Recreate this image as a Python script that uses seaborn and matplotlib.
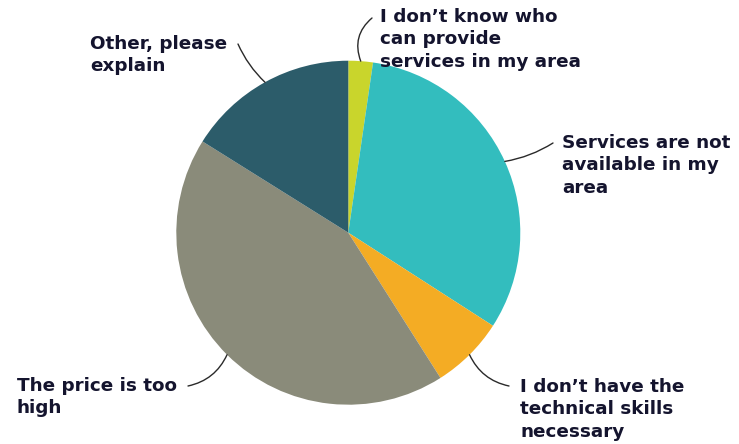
import numpy as np
import matplotlib
matplotlib.use("Agg")
import matplotlib.pyplot as plt
import seaborn as sns

# Reasons given, in clockwise order from 12 o'clock
categories = [
    "I don\u2019t know who\ncan provide\nservices in my area",
    "Services are not\navailable in my\narea",
    "I don\u2019t have the\ntechnical skills\nnecessary",
    "The price is too\nhigh",
    "Other, please\nexplain",
]
shares = [2.3, 31.8, 6.9, 42.9, 16.1]
colors = ["#c9d52c", "#33bdbe", "#f4ac24", "#8a8b7a", "#2c5c6a"]

sns.set_theme(style="white")
plt.rcParams["font.family"] = ["DejaVu Sans"]

W, H, DPI = 739, 444, 100
fig = plt.figure(figsize=(W / DPI, H / DPI), dpi=DPI)
ax = fig.add_axes([0, 0, 1, 1])

# pie centre / radius in pixels, used to set the data window
cx, cy, rp = 348.3, 232.7, 172.0


def px(x, y):
    return (x - cx) / rp, (cy - y) / rp


wedges, _ = ax.pie(shares, colors=colors, startangle=90, counterclock=False,
                   radius=1.0, wedgeprops=dict(linewidth=0))
ax.set_aspect("auto")
ax.set_xlim(-cx / rp, (W - cx) / rp)
ax.set_ylim(-(H - cy) / rp, cy / rp)
ax.axis("off")

# text block anchor (pixel), horizontal alignment, connector end (pixel), curvature
layout = [
    ((380, 8), "left", (372, 18), -0.35),
    ((562, 134), "left", (553, 143), 0.1),
    ((520, 378), "left", (509, 386), 0.25),
    ((177, 377), "right", (188, 386), -0.25),
    ((227, 35), "right", (238, 44), -0.1),
]

text_color = "#14142e"
for w, label, (tpos, ha, end, rad) in zip(wedges, categories, layout):
    mid = np.deg2rad((w.theta1 + w.theta2) / 2)
    start = (np.cos(mid), np.sin(mid))
    ax.annotate("", xy=px(*end), xytext=start,
                arrowprops=dict(arrowstyle="-", color="#2a2a2a", lw=1.0,
                                connectionstyle=f"arc3,rad={rad}",
                                shrinkA=0, shrinkB=0))
    ax.text(*px(*tpos), label, ha=ha, va="top", fontsize=13.2,
            fontweight="bold", color=text_color, linespacing=1.32,
            multialignment="left")

fig.savefig("out.png", dpi=DPI, facecolor="white")
